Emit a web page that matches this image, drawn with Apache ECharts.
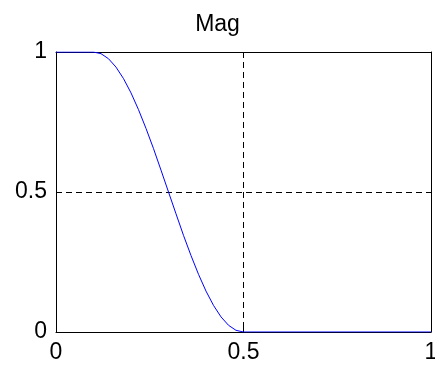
<!DOCTYPE html>
<html>
<head>
<meta charset="utf-8">
<script src="https://cdn.jsdelivr.net/npm/echarts@6/dist/echarts.min.js"></script>
<style>html,body{margin:0;padding:0;background:#fff}#c{width:435px;height:367px}</style>
</head>
<body>
<div id="c"></div>
<script>
const titleText = 'Mag';
const xTicks = [0, 0.5, 1];
const yTicks = [0, 0.5, 1];
const magX = [0, 0.10, 0.12, 0.14, 0.16, 0.18, 0.20, 0.22, 0.24, 0.26, 0.28, 0.30, 0.32, 0.34, 0.36, 0.38, 0.40, 0.42, 0.44, 0.46, 0.48, 0.50, 1.0];
const magY = [1, 1, 0.994, 0.976, 0.946, 0.905, 0.854, 0.794, 0.727, 0.655, 0.578, 0.5, 0.422, 0.345, 0.273, 0.206, 0.146, 0.095, 0.054, 0.024, 0.006, 0, 0];

const font = '"Liberation Sans", Arial, sans-serif';
const chart = echarts.init(document.getElementById('c'), null, {renderer: 'canvas'});
const fmt = v => (xTicks.includes(v) || yTicks.includes(v)) ? String(v) : '';
const baseAxis = {
  min: 0, max: 1, interval: 0.5,
  axisLine: {show: true, onZero: false, lineStyle: {color: '#000', width: 1}},
  axisTick: {show: true, inside: true, length: 5, lineStyle: {color: '#000', width: 1}},
  splitLine: {show: false}
};
chart.setOption({
  animation: false,
  backgroundColor: '#fff',
  title: {text: titleText, left: 'center', top: 8, textStyle: {fontFamily: font, fontSize: 23, fontWeight: 'normal', color: '#000'}},
  grid: {left: 56, right: 4, top: 52, bottom: 35, show: false, containLabel: false, outerBoundsMode: 'none'},
  xAxis: [
    Object.assign({}, baseAxis, {type: 'value', position: 'bottom',
      axisLabel: {show: true, margin: 9, fontFamily: font, fontSize: 23, color: '#000', formatter: fmt},
      splitLine: {show: true, lineStyle: {color: '#000', type: [6, 4], width: 1}}
    }),
    Object.assign({}, baseAxis, {type: 'value', position: 'top', axisLabel: {show: false}})
  ],
  yAxis: [
    Object.assign({}, baseAxis, {type: 'value', position: 'left',
      axisLabel: {show: true, margin: 9, fontFamily: font, fontSize: 23, color: '#000', formatter: fmt},
      splitLine: {show: true, lineStyle: {color: '#000', type: [6, 4], width: 1}}
    }),
    Object.assign({}, baseAxis, {type: 'value', position: 'right', axisLabel: {show: false}})
  ],
  series: [{
    type: 'line',
    data: magX.map((x, i) => [x, magY[i]]),
    showSymbol: false,
    lineStyle: {color: '#0000ff', width: 1},
    z: 5
  }]
});
</script>
</body>
</html>
